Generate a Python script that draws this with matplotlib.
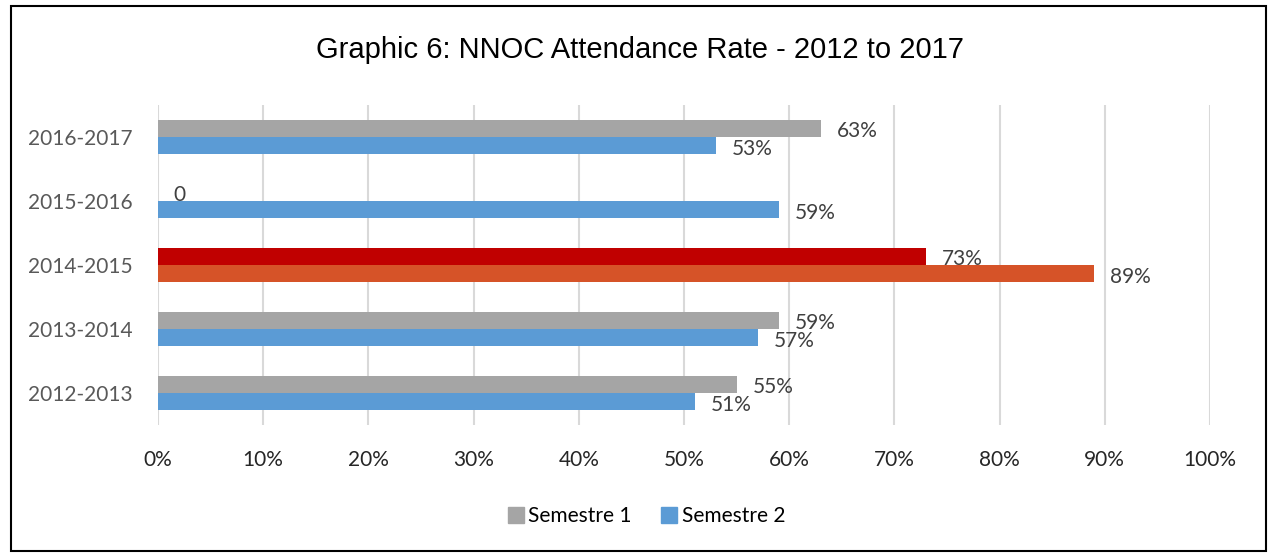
import numpy as np
import matplotlib.pyplot as plt
from matplotlib.patches import Rectangle
from matplotlib.lines import Line2D

# Attendance per school year, in percent
years = ["2012-2013", "2013-2014", "2014-2015", "2015-2016", "2016-2017"]
semestre_1 = [55, 59, 73, 0, 63]
semestre_2 = [51, 57, 89, 59, 53]
x_ticks = [0, 10, 20, 30, 40, 50, 60, 70, 80, 90, 100]

GRAY = "#A5A5A5"
BLUE = "#5B9BD5"
RED = "#C00000"
ORANGE = "#D65328"
HIGHLIGHT = "2014-2015"
FS = 15

fig = plt.figure(figsize=(12.7, 5.54), dpi=100)
ax = fig.add_axes([158 / 1270, 1 - 425 / 554, 1052 / 1270, 320 / 554])

y = np.arange(len(years))
h = 0.26
c1 = [RED if yr == HIGHLIGHT else GRAY for yr in years]
c2 = [ORANGE if yr == HIGHLIGHT else BLUE for yr in years]
ax.barh(y + h / 2, semestre_1, height=h, color=c1, zorder=2)
ax.barh(y - h / 2, semestre_2, height=h, color=c2, zorder=3)

# value labels (Excel style: zero shown without the percent sign)
def lab(v):
    return f"{v}%" if v else "0"

lab_font = dict(family="Lato", fontsize=FS, color="#404040", va="center", ha="left")
for i in range(len(years)):
    ax.text(semestre_1[i] + 1.5, y[i] + h / 2 - 0.04, lab(semestre_1[i]), zorder=2.5, **lab_font)
    ax.text(semestre_2[i] + 1.5, y[i] - h / 2 - 0.05, lab(semestre_2[i]), zorder=4, **lab_font)

ax.set_xlim(0, 100)
ax.set_ylim(-0.5, len(years) - 0.5)
ax.set_xticks(x_ticks)
ax.set_xticklabels([f"{t}%" for t in x_ticks], family="Lato", fontsize=FS, color="#262626")
ax.set_yticks(y)
ax.set_yticklabels(years, family="Lato", fontsize=FS, color="#595959")
ax.tick_params(axis="x", length=0, pad=18)
ax.tick_params(axis="y", length=0, pad=18)
for s in ax.spines.values():
    s.set_visible(False)
ax.grid(axis="x", color="#D9D9D9", linewidth=1.5, zorder=0)
ax.set_axisbelow(True)

fig.text(0.504, 1 - 50 / 554, "Graphic 6: NNOC Attendance Rate - 2012 to 2017",
         family="Liberation Sans", fontsize=21, ha="center", va="center", color="black")

handles = [Line2D([], [], marker="s", linestyle="none", markersize=12, color=GRAY),
           Line2D([], [], marker="s", linestyle="none", markersize=12, color=BLUE)]
fig.legend(handles, ["Semestre 1", "Semestre 2"], loc="center", bbox_to_anchor=(0.508, 1 - 516 / 554),
           ncol=2, frameon=False, prop=dict(family="Lato", size=FS),
           handletextpad=0.1, columnspacing=1.3, handlelength=1.0)

# chart border
fig.patches.append(Rectangle((11 / 1270, 3 / 554), 1255 / 1270, 545 / 554, transform=fig.transFigure,
                             fill=False, edgecolor="black", linewidth=1.5))

fig.savefig("out.png", dpi=100)
